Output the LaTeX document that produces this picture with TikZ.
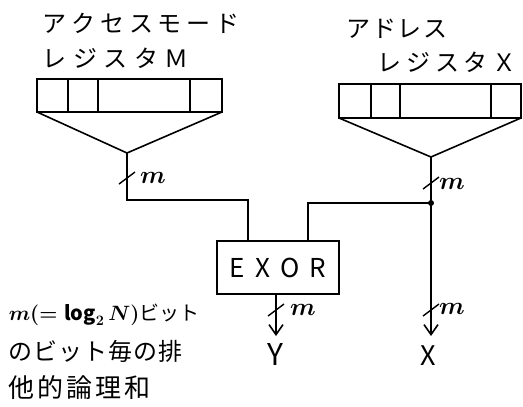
\documentclass[tikz,border=0pt]{standalone}
\usepackage{fontspec}
\setmainfont{Noto Sans CJK JP}
\usetikzlibrary{arrows.meta}
\newlength\spcgap
\def\spc#1#2{\setlength\spcgap{#1}\spcA#2\endspc}
\def\spcA#1#2\endspc{#1\ifx\relax#2\relax\else\hspace{\spcgap}\spcA#2\endspc\fi}
\begin{document}
\begin{tikzpicture}[x=1pt,y=-1pt, line width=1.6pt,
  lbl/.style={inner sep=0pt, anchor=base west},
  mlbl/.style={inner sep=0pt, font=\fontsize{28}{28}\selectfont\boldmath},
  tick/.style={line width=1.4pt},
  arr/.style={-{Straight Barb[length=10pt,width=14pt,line width=1.6pt]}}]
\useasboundingbox (0,0) rectangle (523,407);
% titles
\node[lbl, font=\fontsize{24}{24}\selectfont] (t1) at (42,32) {\spc{4.8pt}{アクセスモード}};
\node[lbl, font=\fontsize{24}{24}\selectfont] (t2) at (42,67) {\spc{6.5pt}{レジスタＭ}};
\node[lbl, font=\fontsize{24}{24}\selectfont] (t3) at (346,37) {\spc{1.5pt}{アドレス}};
\node[lbl, font=\fontsize{24}{24}\selectfont] (t4) at (377,71) {\spc{4.7pt}{レジスタＸ}};
% register M
\draw (37,79) rectangle (222,112);
\foreach \x in {68,98,190} \draw (\x,79) -- (\x,112);
\coordinate (am) at (127,153);
\draw (37,112) -- (am) -- (222,112);
% register X
\draw (339,84) rectangle (521,118);
\foreach \x in {371,400,491} \draw (\x,84) -- (\x,118);
\coordinate (ax) at (431,157);
\draw (339,118) -- (ax) -- (521,118);
% EXOR
\node[draw, minimum width=122pt, minimum height=53pt, inner sep=0pt,
  font=\fontsize{26}{26}\selectfont] (ex) at (278,267.5) {\raisebox{-3pt}{\spc{10pt}{EXOR}}};
% connections
\coordinate (cm) at (127,200);
\draw (am) -- (cm) -| ([xshift=-30pt]ex.north);
\coordinate (dot) at (431,203);
\draw (ax) -- (dot) -| ([xshift=30pt]ex.north);
\fill (dot) circle (3pt);
\coordinate (xo) at (431,336);
\coordinate (yo) at (276,336);
\draw[arr] (dot) -- (xo);
\draw[arr] (ex.south -| yo) -- (yo);
% outputs
\node[inner sep=0pt, font=\fontsize{30}{30}\selectfont] (Y) at (275,355) {Y};
\node[inner sep=0pt, font=\fontsize{27}{27}\selectfont] (X) at (428,356) {X};
% bus ticks
\draw[tick] (119,184) -- (135,172);
\draw[tick] (423,189) -- (439,177);
\draw[tick] (268,316) -- (284,304);
\draw[tick] (423,316) -- (439,304);
\node[mlbl] (m1) at (153,178) {$m$};
\node[mlbl] (m2) at (452,184) {$m$};
\node[mlbl] (m3) at (303,310) {$m$};
\node[mlbl] (m4) at (452,309) {$m$};
% note
\node[lbl, font=\fontsize{20}{20}\selectfont] (n1) at (8,320) {{\fontsize{20}{20}\selectfont\boldmath$m(=\log_2 N)$}ビット};
\node[lbl, font=\fontsize{24}{24}\selectfont] (n2) at (8,360) {\spc{1pt}{のビット毎の排}};
\node[lbl, font=\fontsize{26}{26}\selectfont] (n3) at (8,397) {\spc{3pt}{他的論理和}};
\end{tikzpicture}
\end{document}
